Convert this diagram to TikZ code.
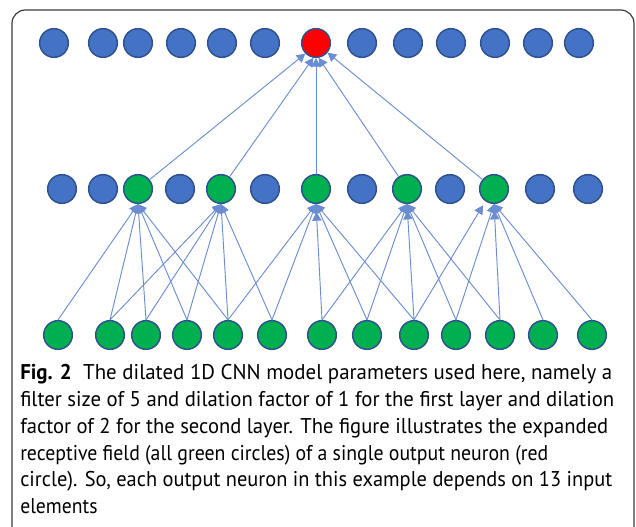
\documentclass[tikz,border=0pt]{standalone}
\usepackage{fontspec}
\setmainfont{PT Sans}
\usetikzlibrary{arrows.meta}
\definecolor{nblue}{HTML}{4472C4}
\definecolor{nedge}{HTML}{2F528F}
\definecolor{ngreen}{HTML}{00B050}
\definecolor{nred}{HTML}{FF0000}
\definecolor{lblue}{HTML}{6A8DD2}
\definecolor{framec}{HTML}{3A3A3A}
\newcommand{\capfit}[2]{\resizebox{#1}{\height}{#2}}
\begin{document}
\begin{tikzpicture}[x=0.75pt,y=-0.75pt,
  neuron/.style={circle,draw=nedge,line width=1.1pt,minimum size=21.5pt,inner sep=0pt},
  bn/.style={neuron,fill=nblue},
  gn/.style={neuron,fill=ngreen},
  rn/.style={neuron,fill=nred},
  conn/.style={draw=lblue,line width=0.7pt,-{Triangle[length=6.5pt,width=7pt]}},
  capline/.style={anchor=base west,inner sep=0pt,font=\fontsize{16pt}{19pt}\selectfont}
]
\useasboundingbox (0,0) rectangle (636,527);
\clip (0,0) rectangle (636,527);
\draw[draw=framec,line width=0.9pt,rounded corners=10pt] (12,10) rectangle (634,545);

% top row
\foreach \x/\s [count=\i] in {54/bn,103/bn,138/bn,181/bn,222/bn,265/bn,316/rn,362/bn,408/bn,451/bn,495/bn,538/bn,579/bn}
  {\node[\s] (t\i) at (\x,43) {};}
% middle row
\foreach \x/\s [count=\i] in {62/bn,103/bn,138/gn,180/bn,221/gn,265/bn,316/gn,362/bn,407/gn,450/bn,494/gn,540/bn,588/bn}
  {\node[\s] (m\i) at (\x,189) {};}
% bottom row
\foreach \x [count=\i] in {58,110,146,187,228,272,322,367,414,456,500,543,592}
  {\node[gn] (b\i) at (\x,335) {};}

% second layer -> output
\draw[conn] (m3) -- (t7.-135);
\draw[conn] (m5) -- (t7.-100);
\draw[conn] (m7) -- (t7.-90);
\draw[conn] (m9) -- (t7.-80);
\draw[conn] (m11) -- (t7.-40);

% first layer -> second layer
\foreach \b in {1,...,5} {\draw[conn] (b\b.north) -- (m3.south);}
\foreach \b in {2,...,6} {\draw[conn] (b\b.north) -- (m5.south);}
\foreach \b in {5,6,8,9} {\draw[conn] (b\b.north) -- (m7.south);}
\draw[conn,shorten >=6pt] (b7.north) -- (m7.south);
\foreach \b in {7,8,10,11} {\draw[conn] (b\b.north) -- (m9.south);}
\draw[conn,shorten >=5pt] (b9.north) -- (m9.south);
\foreach \b in {10,12,13} {\draw[conn] (b\b.north) -- (m11.south);}
\draw[conn,shorten >=5pt] (b11.north) -- (m11.south);
\draw[conn,shorten >=3.5pt] (b9.north) -- (m11.-125);

% caption
\node[capline] (c1) at (20,380) {\capfit{444pt}{\textbf{Fig. 2}\hspace{0.55em}The dilated 1D CNN model parameters used here, namely a}};
\node[capline] (c2) at (20,406.75) {\capfit{445.5pt}{filter size of 5 and dilation factor of 1 for the first layer and dilation}};
\node[capline] (c3) at (20,433.5) {\capfit{441pt}{factor of 2 for the second layer. The figure illustrates the expanded}};
\node[capline] (c4) at (20,460.25) {\capfit{396pt}{receptive field (all green circles) of a single output neuron (red}};
\node[capline] (c5) at (20,487) {\capfit{444pt}{circle). So, each output neuron in this example depends on 13 input}};
\node[capline] (c6) at (20,513.75) {\capfit{58pt}{elements}};
\end{tikzpicture}
\end{document}
